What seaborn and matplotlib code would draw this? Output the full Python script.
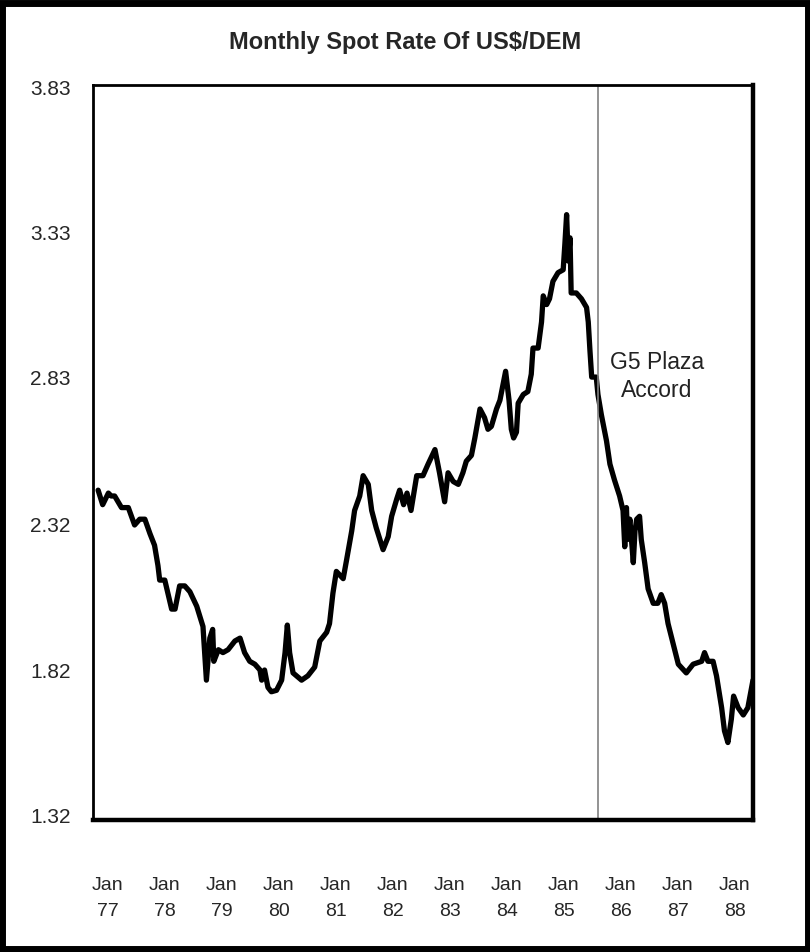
import numpy as np
import pandas as pd
import matplotlib
matplotlib.use("Agg")
import matplotlib.pyplot as plt
from matplotlib.patches import Rectangle
import seaborn as sns

# Rate (decimal year, DEM per US$)
dates = [1976.83, 1976.91, 1977.01, 1977.06, 1977.12, 1977.24, 1977.36, 1977.47,
         1977.56, 1977.65, 1977.74, 1977.82, 1977.88, 1977.91, 1978.00, 1978.12,
         1978.18, 1978.26, 1978.35, 1978.44, 1978.56, 1978.67, 1978.73, 1978.79,
         1978.84, 1978.86, 1978.94, 1979.02, 1979.11, 1979.23, 1979.32, 1979.40,
         1979.49, 1979.58, 1979.67, 1979.70, 1979.75, 1979.81, 1979.87, 1979.96,
         1980.05, 1980.11, 1980.15, 1980.19, 1980.25, 1980.40, 1980.51, 1980.63,
         1980.72, 1980.84, 1980.89, 1980.95, 1981.01, 1981.13, 1981.19, 1981.28,
         1981.33, 1981.42, 1981.48, 1981.57, 1981.63, 1981.71, 1981.83, 1981.92,
         1981.98, 1982.07, 1982.12, 1982.19, 1982.25, 1982.32, 1982.42, 1982.53,
         1982.62, 1982.74, 1982.82, 1982.91, 1982.97, 1983.06, 1983.15, 1983.23,
         1983.29, 1983.38, 1983.44, 1983.53, 1983.61, 1983.67, 1983.73, 1983.82,
         1983.88, 1983.98, 1984.04, 1984.08, 1984.12, 1984.17, 1984.20, 1984.29,
         1984.37, 1984.43, 1984.46, 1984.55, 1984.61, 1984.64, 1984.70, 1984.75,
         1984.81, 1984.90, 1984.99, 1985.02, 1985.05, 1985.08, 1985.11, 1985.13,
         1985.22, 1985.31, 1985.40, 1985.43, 1985.46, 1985.49, 1985.57, 1985.60,
         1985.66, 1985.69, 1985.75, 1985.81, 1985.89, 1985.98, 1986.04, 1986.07,
         1986.10, 1986.12, 1986.16, 1986.22, 1986.25, 1986.28, 1986.33, 1986.36,
         1986.42, 1986.48, 1986.57, 1986.65, 1986.71, 1986.77, 1986.83, 1986.92,
         1987.01, 1987.15, 1987.27, 1987.42, 1987.47, 1987.53, 1987.62, 1987.68,
         1987.77, 1987.82, 1987.88, 1987.94, 1987.98, 1988.06, 1988.15, 1988.23,
         1988.32]
rates = [2.44, 2.39, 2.43, 2.42, 2.42, 2.38, 2.38, 2.32,
         2.34, 2.34, 2.29, 2.25, 2.18, 2.13, 2.13, 2.03,
         2.03, 2.11, 2.11, 2.09, 2.04, 1.97, 1.785, 1.93,
         1.96, 1.85, 1.89, 1.88, 1.89, 1.92, 1.93, 1.88,
         1.85, 1.84, 1.82, 1.785, 1.82, 1.76, 1.745, 1.75,
         1.785, 1.88, 1.975, 1.88, 1.81, 1.785, 1.80, 1.83,
         1.92, 1.95, 1.98, 2.085, 2.16, 2.135, 2.20, 2.30,
         2.37, 2.42, 2.49, 2.46, 2.37, 2.31, 2.235, 2.28,
         2.35, 2.41, 2.44, 2.39, 2.43, 2.37, 2.49, 2.49,
         2.53, 2.58, 2.50, 2.40, 2.50, 2.47, 2.46, 2.50,
         2.54, 2.56, 2.62, 2.72, 2.69, 2.65, 2.66, 2.72,
         2.75, 2.85, 2.75, 2.65, 2.62, 2.64, 2.74, 2.77,
         2.78, 2.84, 2.93, 2.93, 3.02, 3.11, 3.08, 3.10,
         3.16, 3.19, 3.20, 3.29, 3.39, 3.23, 3.31, 3.12,
         3.12, 3.10, 3.07, 3.02, 2.92, 2.83, 2.83, 2.77,
         2.70, 2.67, 2.61, 2.53, 2.475, 2.42, 2.37, 2.245,
         2.38, 2.27, 2.34, 2.19, 2.30, 2.34, 2.35, 2.27,
         2.19, 2.10, 2.05, 2.05, 2.08, 2.05, 1.98, 1.91,
         1.84, 1.81, 1.84, 1.85, 1.88, 1.85, 1.85, 1.80,
         1.69, 1.61, 1.57, 1.65, 1.73, 1.69, 1.665, 1.69,
         1.785]

y_ticks = [1.32, 1.82, 2.32, 2.83, 3.33, 3.83]
y_labels = ["1.32", "1.82", "2.32", "2.83", "3.33", "3.83"]
x_ticks = [1977, 1978, 1979, 1980, 1981, 1982, 1983, 1984, 1985, 1986, 1987, 1988]
x_labels = ["Jan\n77", "Jan\n78", "Jan\n79", "Jan\n80", "Jan\n81", "Jan\n82",
            "Jan\n83", "Jan\n84", "Jan\n85", "Jan\n86", "Jan\n87", "Jan\n88"]
plaza_date = 1985.6

df = pd.DataFrame({"date": dates, "rate": rates})

sns.set_style("white")
plt.rcParams['font.family'] = ['Liberation Sans', 'DejaVu Sans']

fig = plt.figure(figsize=(8.1, 9.52), dpi=100)
ax = fig.add_axes([0.1148, 0.1387, 0.8148, 0.7720])

sns.lineplot(data=df, x="date", y="rate", color="black", linewidth=3.8, ax=ax)
for ln in ax.lines:
    ln.set_solid_joinstyle("round")
    ln.set_solid_capstyle("round")
ax.axvline(plaza_date, color="#808080", linewidth=1.2)
ax.text(1986.63, 2.833, "G5 Plaza\nAccord", ha="center", va="center",
        fontsize=16.5, color="#222222", linespacing=1.3)

ax.set_xlim(1976.74, 1988.32)
ax.set_ylim(1.303, 3.837)
ax.set_yticks(y_ticks)
ax.set_yticklabels(y_labels)
ax.set_xticks(x_ticks)
ax.set_xticklabels(x_labels, linespacing=1.68)
ax.tick_params(axis="x", length=0, pad=41, labelsize=14)
ax.tick_params(axis="y", length=0, pad=16, labelsize=15)
ax.set_xlabel("")
ax.set_ylabel("")

for side in ["left", "top"]:
    ax.spines[side].set_linewidth(2)
for side in ["right", "bottom"]:
    ax.spines[side].set_linewidth(3.2)
for s in ax.spines.values():
    s.set_color("black")

fig.text(0.5, 0.955, "Monthly Spot Rate Of US$/DEM", ha="center", va="center",
         fontsize=17, fontweight="bold")

# outer frame around the whole figure
fig.patches.append(Rectangle((0.003, 0.003), 0.994, 0.994, transform=fig.transFigure,
                             fill=False, edgecolor="black", linewidth=5))

fig.savefig("out.png", dpi=100)
